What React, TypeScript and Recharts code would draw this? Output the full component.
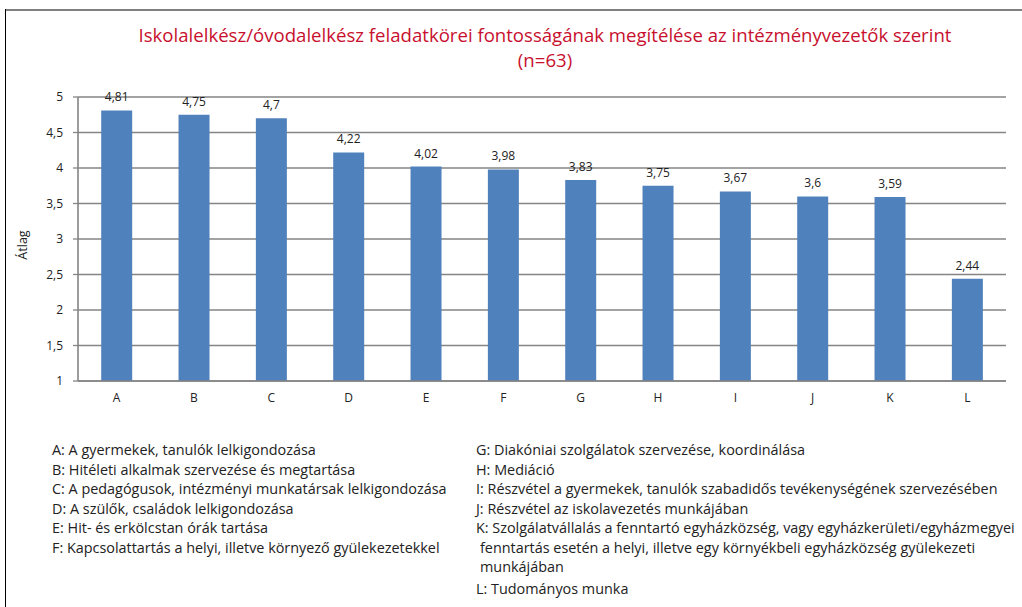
import React from 'react';
import { BarChart, Bar, XAxis, YAxis, CartesianGrid, LabelList } from 'recharts';

const categories = ['A', 'B', 'C', 'D', 'E', 'F', 'G', 'H', 'I', 'J', 'K', 'L'];
const averages = [4.81, 4.75, 4.7, 4.22, 4.02, 3.98, 3.83, 3.75, 3.67, 3.6, 3.59, 2.44];
const yTicks = [1, 1.5, 2, 2.5, 3, 3.5, 4, 4.5, 5];

const legendLeft = [
  'A: A gyermekek, tanulók lelkigondozása',
  'B: Hitéleti alkalmak szervezése és megtartása',
  'C: A pedagógusok, intézményi munkatársak lelkigondozása',
  'D: A szülők, családok lelkigondozása',
  'E: Hit- és erkölcstan órák tartása',
  'F: Kapcsolattartás a helyi, illetve környező gyülekezetekkel',
];
const legendRight = [
  'G: Diakóniai szolgálatok szervezése, koordinálása',
  'H: Mediáció',
  'I: Részvétel a gyermekek, tanulók szabadidős tevékenységének szervezésében',
  'J: Részvétel az iskolavezetés munkájában',
  'K: Szolgálatvállalás a fenntartó egyházközség, vagy egyházkerületi/egyházmegyei\nfenntartás esetén a helyi, illetve egy környékbeli egyházközség gyülekezeti\nmunkájában',
  'L: Tudományos munka',
];

const chartData = categories.map((name, i) => ({ name, value: averages[i] }));
const comma = (v: number | string) => String(v).replace('.', ',');

const FONT = '"Open Sans", sans-serif';

const App: React.FC = () => {
  return (
    <div style={{ position: 'absolute', left: 0, top: 0, width: 1022, height: 607, background: '#fff', fontFamily: FONT, overflow: 'hidden' }}>
      {/* frame */}
      <div style={{ position: 'absolute', left: 5, top: 9, width: 1017, height: 2, background: '#808080' }} />
      <div style={{ position: 'absolute', left: 5, top: 9, width: 1, height: 598, background: '#000' }} />

      <div style={{ position: 'absolute', left: 80, top: 22, width: 930, textAlign: 'center', color: '#C8102E', fontSize: 18.6, lineHeight: '25px' }}>
        Iskolalelkész/óvodalelkész feladatkörei fontosságának megítélése az intézményvezetők szerint
        <br />(n=63)
      </div>

      <div style={{ position: 'absolute', left: 22, top: 245, transform: 'translate(-50%, -50%) rotate(-90deg)', fontSize: 12.5, color: '#222' }}>
        Átlag
      </div>

      <div style={{ position: 'absolute', left: 0, top: 0 }}>
        <BarChart width={1022} height={420} data={chartData} margin={{ top: 97, right: 16, left: 20, bottom: 9 }} barCategoryGap="30%">
          <CartesianGrid vertical={false} stroke="#858585" strokeWidth={1.6} />
          <XAxis dataKey="name" height={30} tickLine={false} axisLine={{ stroke: '#858585', strokeWidth: 1.6 }} tick={{ fill: '#222', fontSize: 12, fontFamily: FONT }} tickMargin={6} />
          <YAxis width={58} domain={[1, 5]} ticks={yTicks} tickFormatter={comma} axisLine={{ stroke: '#858585', strokeWidth: 1.6 }} tickLine={{ stroke: '#858585', strokeWidth: 1.3 }} tickSize={5} tick={{ fill: '#222', fontSize: 12, fontFamily: FONT }} tickMargin={10} />
          <Bar dataKey="value" fill="#4F81BD" isAnimationActive={false}>
            <LabelList dataKey="value" position="top" offset={9} formatter={(v: any) => comma(v)} style={{ fill: '#222', fontSize: 12, fontFamily: FONT }} />
          </Bar>
        </BarChart>
      </div>

      <div style={{ position: 'absolute', left: 52, top: 440, fontSize: 14.4, lineHeight: '19.5px', color: '#222' }}>
        {legendLeft.map((t) => (
          <div key={t}>{t}</div>
        ))}
      </div>
      <div style={{ position: 'absolute', left: 476, top: 440, fontSize: 14.4, lineHeight: '19.5px', color: '#222' }}>
        {legendRight.map((t) => (
          <div key={t} style={{ whiteSpace: 'pre-line', paddingLeft: 4, textIndent: -4, marginBottom: t.startsWith('K') ? 2 : 0 }}>{t}</div>
        ))}
      </div>
    </div>
  );
};

export default App;
